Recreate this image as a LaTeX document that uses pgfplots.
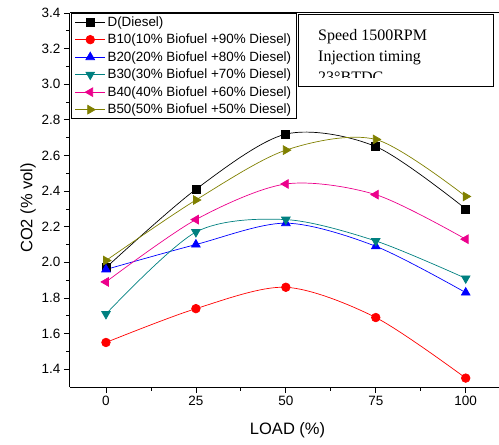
\documentclass[border=0pt]{standalone}
\usepackage{pgfplots}
\pgfplotsset{compat=1.18}
\usepackage{fontspec}
\setmainfont{Liberation Sans}
\newfontfamily\timesfont{Liberation Serif}
\definecolor{cteal}{RGB}{0,128,128}
\definecolor{colive}{RGB}{128,128,0}
\begin{document}
\begin{tikzpicture}
\begin{axis}[
  scale only axis, width=431.7pt, height=374pt,
  xmin=-10, xmax=110, ymin=1.3, ymax=3.4,
  axis lines*=left,
  axis line style={line width=1pt},
  tick align=outside,
  major tick length=6pt, minor tick length=3.5pt,
  every tick/.style={black, line width=0.8pt},
  xtick={0,25,50,75,100}, minor x tick num=1,
  ytick={1.4,1.6,1.8,2.0,2.2,2.4,2.6,2.8,3.0,3.2,3.4}, minor y tick num=1,
  yticklabel style={/pgf/number format/fixed, /pgf/number format/fixed zerofill, /pgf/number format/precision=1},
  /pgf/number format/assume math mode=true,
  tick label style={font=\fontsize{13.5}{16}\selectfont},
  xlabel={LOAD (\%)}, ylabel={CO2 (\% vol)},
  label style={font=\fontsize{16.5}{19}\selectfont},
  xlabel style={at={(axis description cs:0.504,0)}, yshift=-43pt, anchor=center},
  ylabel style={at={(axis description cs:-0.0973,0.479)}, anchor=center},
  legend cell align=left,
  legend image code/.code={\draw[mark repeat=2,mark phase=2] plot coordinates {(0pt,0pt)(15pt,0pt)(30pt,0pt)};},
  legend style={at={(axis description cs:0,1)}, anchor=north west, xshift=1.5pt,
     draw=black, line width=0.8pt, font=\fontsize{13.4}{15}\selectfont,
     inner xsep=3pt, inner ysep=0pt, row sep=0pt,
     nodes={inner xsep=2pt, inner ysep=0pt, minimum height=17.5pt, line width=0.6pt}},
  every axis plot/.append style={line width=0.7pt, smooth},
]
\addplot[black, mark=square*, mark size=4pt] coordinates {(0,1.97)(25,2.41)(50,2.72)(75,2.65)(100,2.30)};
\addlegendentry{D(Diesel)}
\addplot[red, mark=*, mark size=4.3pt] coordinates {(0,1.55)(25,1.74)(50,1.86)(75,1.69)(100,1.35)};
\addlegendentry{B10(10\% Biofuel +90\% Diesel)}
\addplot[blue, mark=triangle*, mark size=5pt] coordinates {(0,1.96)(25,2.10)(50,2.22)(75,2.09)(100,1.83)};
\addlegendentry{B20(20\% Biofuel +80\% Diesel)}
\addplot[cteal, mark=triangle*, mark size=5pt, mark options={rotate=180}] coordinates {(0,1.71)(25,2.17)(50,2.24)(75,2.12)(100,1.91)};
\addlegendentry{B30(30\% Biofuel +70\% Diesel)}
\addplot[magenta, mark=triangle*, mark size=5pt, mark options={rotate=90}] coordinates {(0,1.89)(25,2.24)(50,2.44)(75,2.38)(100,2.13)};
\addlegendentry{B40(40\% Biofuel +60\% Diesel)}
\addplot[colive, mark=triangle*, mark size=5pt, mark options={rotate=-90}] coordinates {(0,2.01)(25,2.35)(50,2.63)(75,2.69)(100,2.37)};
\addlegendentry{B50(50\% Biofuel +50\% Diesel)}
\end{axis}
\draw[line width=1pt] (0pt,374pt) -- (431.7pt,374pt);
\begin{scope}
\clip (229pt,309pt) rectangle (423pt,372pt);
\node[anchor=base west, inner sep=0pt, font=\timesfont\fontsize{16}{19}\selectfont] at (248pt,346.3pt) {Speed 1500RPM};
\node[anchor=base west, inner sep=0pt, font=\timesfont\fontsize{16}{19}\selectfont] at (248pt,325.3pt) {Injection timing};
\node[anchor=base west, inner sep=0pt, font=\timesfont\fontsize{16}{19}\selectfont] at (248pt,304.3pt) {23°BTDC};
\end{scope}
\draw[line width=1pt] (229pt,300pt) rectangle (423pt,372pt);
\pgfresetboundingbox
\useasboundingbox (-70pt,-58pt) rectangle (429pt,387pt);
\end{tikzpicture}
\end{document}
